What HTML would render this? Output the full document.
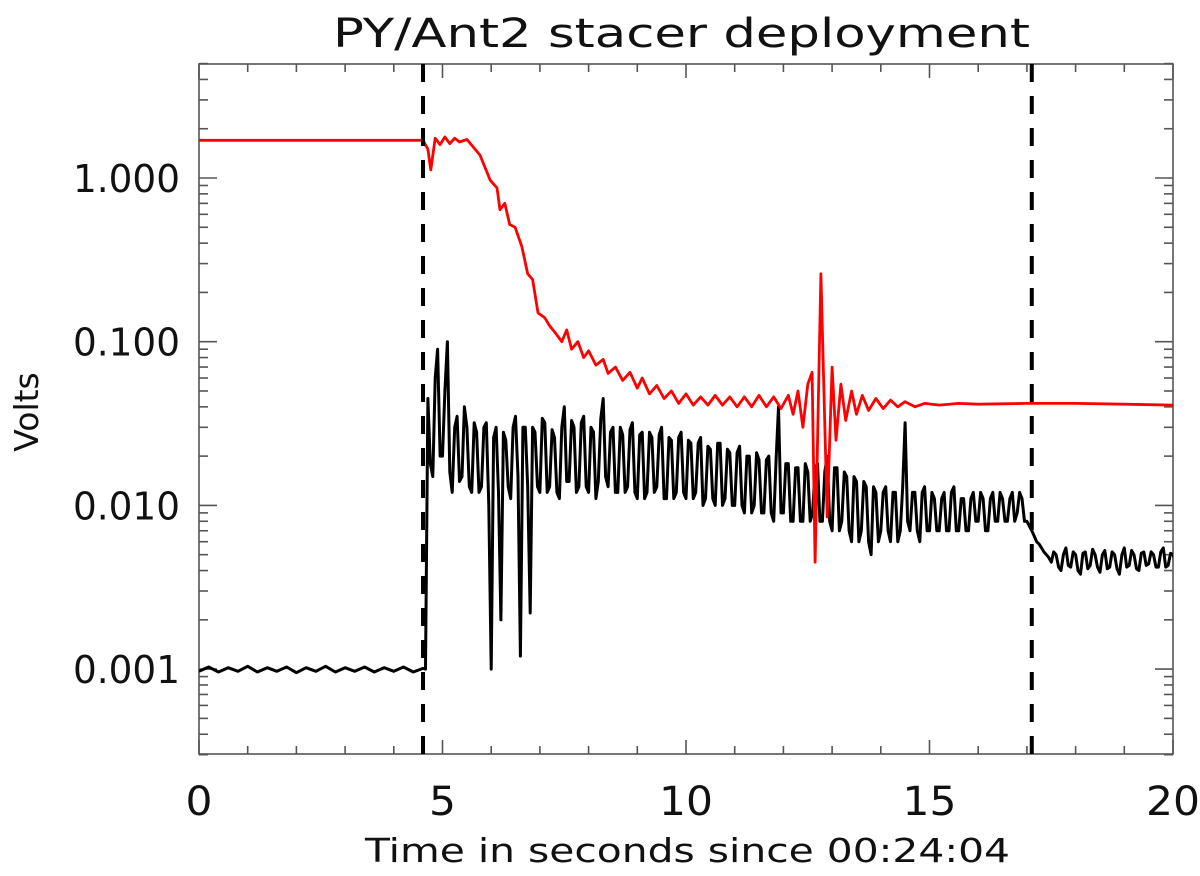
<!DOCTYPE html>
<html><head><meta charset="utf-8"><style>
html,body{margin:0;padding:0;background:#fff;}
svg{display:block;font-family:"DejaVu Sans","Liberation Sans",sans-serif;}
</style></head><body>
<svg id="chart" width="1200" height="876" viewBox="0 0 1200 876">
<defs><clipPath id="pc"><rect x="199" y="64" width="974" height="690"/></clipPath></defs>
<text x="333" y="47" font-size="40" textLength="697" lengthAdjust="spacingAndGlyphs" fill="#111">PY/Ant2 stacer deployment</text>
<text x="365" y="862" font-size="33" textLength="645" lengthAdjust="spacingAndGlyphs" fill="#111">Time in seconds since 00:24:04</text>
<text transform="translate(38,412) rotate(-90)" font-size="33" text-anchor="middle" fill="#111">Volts</text>
<g id="axes"></g>
<g id="plot" clip-path="url(#pc)"></g>
<g id="events"></g>
</svg>
<script>
const xTicks=[0,5,10,15,20];
const xTickLabels=["0","5","10","15","20"];
const yTicks=[0.001,0.01,0.1,1];
const yTickLabels=["0.001","0.010","0.100","1.000"];
const eventTimes=[4.6,17.1];
const redTimes=[0,4.6,4.7,4.76,4.85,4.95,5.05,5.15,5.25,5.35,5.5,5.77,5.98,6.12,6.18,6.28,6.38,6.49,6.63,6.75,6.85,6.96,7.1,7.2,7.35,7.45,7.55,7.65,7.78,7.9,8.0,8.15,8.3,8.4,8.55,8.7,8.85,9.0,9.1,9.25,9.4,9.55,9.7,9.85,10.0,10.15,10.3,10.45,10.6,10.75,10.9,11.05,11.2,11.35,11.5,11.65,11.8,11.95,12.1,12.2,12.3,12.4,12.5,12.59,12.65,12.77,12.9,13.0,13.08,13.18,13.28,13.4,13.5,13.62,13.75,13.9,14.05,14.2,14.35,14.5,14.7,14.9,15.2,15.6,16,17,18,19,20];
const redValues=[1.7,1.7,1.5,1.12,1.75,1.6,1.78,1.62,1.75,1.66,1.72,1.38,0.97,0.87,0.64,0.70,0.52,0.50,0.38,0.26,0.24,0.15,0.14,0.125,0.11,0.10,0.118,0.09,0.10,0.08,0.088,0.072,0.078,0.064,0.07,0.058,0.065,0.052,0.06,0.048,0.054,0.045,0.05,0.042,0.048,0.041,0.046,0.041,0.047,0.041,0.046,0.04,0.046,0.04,0.047,0.04,0.046,0.039,0.047,0.036,0.05,0.03,0.055,0.065,0.0045,0.26,0.0085,0.07,0.025,0.055,0.033,0.05,0.036,0.047,0.038,0.045,0.039,0.044,0.04,0.043,0.04,0.042,0.041,0.042,0.0415,0.042,0.042,0.0415,0.041];
const blackBaseTimes=[0,0.2,0.4,0.6,0.8,1.0,1.2,1.4,1.6,1.8,2.0,2.2,2.4,2.6,2.8,3.0,3.2,3.4,3.6,3.8,4.0,4.2,4.4,4.6,4.65];
const blackBaseValues=[0.00097,0.00103,0.00096,0.00102,0.00097,0.00104,0.00096,0.00102,0.00097,0.00103,0.00095,0.00102,0.00097,0.00104,0.00096,0.00102,0.00097,0.00103,0.00096,0.00102,0.00097,0.00103,0.00096,0.00101,0.001];
const blackStart=4.7;
const blackStep=0.1;
const blackValues=[0.045,0.015,0.09,0.02,0.1,0.012,0.035,0.015,0.03,0.012,
0.028,0.013,0.032,0.001,0.03,0.002,0.025,0.011,0.035,0.0012,
0.03,0.0022,0.028,0.012,0.032,0.013,0.026,0.011,0.04,0.014,
0.03,0.013,0.035,0.012,0.028,0.014,0.045,0.013,0.03,0.012,
0.027,0.013,0.032,0.011,0.028,0.012,0.026,0.013,0.03,0.011,
0.025,0.012,0.028,0.011,0.024,0.012,0.026,0.011,0.022,0.010,
0.024,0.011,0.021,0.010,0.023,0.009,0.02,0.010,0.019,0.009,
0.02,0.008,0.04,0.009,0.018,0.008,0.017,0.008,0.016,0.009,
0.018,0.008,0.02,0.007,0.017,0.008,0.015,0.006,0.014,0.007,
0.013,0.005,0.012,0.007,0.013,0.006,0.012,0.007,0.032,0.007,
0.012,0.006,0.013,0.007,0.011,0.007,0.012,0.007,0.013,0.007,
0.011,0.007,0.012,0.008,0.011,0.007,0.012,0.008,0.011,0.008,
0.012,0.009,0.011,0.008,0.007,0.006,0.0055,0.005,0.0045,0.005,
0.004,0.0055,0.0042,0.005,0.0038,0.0052,0.0043,0.005,0.0039,0.0053,
0.0042,0.005,0.0038,0.0055,0.0043,0.005,0.004,0.0052,0.0044,0.005,
0.0042,0.0055,0.0043,0.005];
const blackMidValues=[0.018,0.06,0.02,0.05,0.016,0.03,0.014,0.04,0.013,0.032,
0.012,0.03,0.01,0.026,0.012,0.028,0.013,0.03,0.015,0.03,
0.013,0.03,0.013,0.034,0.012,0.029,0.012,0.03,0.014,0.033,
0.012,0.032,0.013,0.03,0.011,0.034,0.015,0.028,0.012,0.03,
0.012,0.029,0.012,0.027,0.011,0.028,0.012,0.027,0.011,0.026,
0.011,0.026,0.012,0.025,0.011,0.024,0.01,0.023,0.011,0.024,
0.01,0.022,0.01,0.021,0.01,0.02,0.009,0.021,0.009,0.019,
0.009,0.019,0.009,0.018,0.008,0.017,0.008,0.018,0.008,0.017,
0.008,0.016,0.008,0.017,0.007,0.016,0.007,0.015,0.006,0.014,
0.006,0.013,0.006,0.012,0.007,0.012,0.006,0.013,0.008,0.012,
0.007,0.012,0.007,0.012,0.007,0.011,0.007,0.012,0.007,0.011,
0.007,0.011,0.008,0.012,0.007,0.011,0.008,0.012,0.008,0.011,
0.008,0.012,0.008,0.0075,0.0065,0.0058,0.0052,0.0048,0.0052,0.0042,
0.005,0.0043,0.0052,0.004,0.0051,0.0041,0.0054,0.0042,0.005,0.0041,
0.0052,0.0041,0.005,0.0042,0.0053,0.0041,0.0051,0.0043,0.0052,0.0042,
0.0052,0.0042,0.0051,0.0045];

const L=199,R=1173,T=64,B=754;
const xMin=0,xMax=20,yMin=0.0003,yMax=5;
const yRef=178, decade=163.7;
function xs(t){return L+(t-xMin)/(xMax-xMin)*(R-L);}
function ys(v){return yRef-Math.log10(v)*decade;}
const NS="http://www.w3.org/2000/svg";
const axes=document.getElementById('axes'), plot=document.getElementById('plot'), events=document.getElementById('events');
function mk(tag,attrs,parent){const e=document.createElementNS(NS,tag);for(const k in attrs)e.setAttribute(k,attrs[k]);parent.appendChild(e);return e;}
function line(x1,y1,x2,y2,parent,name){const e=mk('line',{x1:x1,y1:y1,x2:x2,y2:y2,stroke:'#555','stroke-width':1.6},parent);

return e;}

const fr=mk('rect',{x:L,y:T,width:R-L,height:B-T,fill:'none',stroke:'#555','stroke-width':1.6},axes);


for(let t=xMin;t<=xMax;t++){const major=t%5===0;const len=major?14:8;
 line(xs(t),B,xs(t),B-len,axes,'x-tick');line(xs(t),T,xs(t),T+len,axes,'x-tick-top');}
xTicks.forEach((t,i)=>{const w=xTickLabels[i].length*27;
 const tx=mk('text',{x:xs(t)-w/2,y:815,'font-size':40,textLength:w,lengthAdjust:'spacingAndGlyphs',fill:'#111'},axes);tx.textContent=xTickLabels[i];

});
for(let d=-4;d<=0;d++){for(let m=1;m<=9;m++){const v=m*Math.pow(10,d);if(v<yMin||v>yMax)continue;const len=m===1?18:9;const y=ys(v);
 line(L,y,L+len,y,axes,'y-tick');line(R,y,R-len,y,axes,'y-tick-right');}}
yTicks.forEach((v,i)=>{const tx=mk('text',{x:73,y:ys(v)+14,'font-size':38,textLength:107,lengthAdjust:'spacingAndGlyphs',fill:'#111'},axes);tx.textContent=yTickLabels[i];

});

let pts=[];
blackBaseTimes.forEach((t,i)=>pts.push(xs(t).toFixed(1)+','+ys(blackBaseValues[i]).toFixed(1)));
blackValues.forEach((v,i)=>{const t=blackStart+i*blackStep;
 pts.push(xs(t).toFixed(1)+','+ys(v).toFixed(1));
 if(i<blackMidValues.length)pts.push(xs(t+blackStep/2).toFixed(1)+','+ys(blackMidValues[i]).toFixed(1));});
const bl=mk('polyline',{points:pts.join(' '),fill:'none',stroke:'#000','stroke-width':3,'stroke-linejoin':'round'},plot);


const rp=redTimes.map((t,i)=>xs(t).toFixed(1)+','+ys(redValues[i]).toFixed(1)).join(' ');
const rl=mk('polyline',{points:rp,fill:'none',stroke:'#f00','stroke-width':2.8,'stroke-linejoin':'round'},plot);


eventTimes.forEach(t=>{const e=mk('line',{x1:xs(t),y1:T,x2:xs(t),y2:B,stroke:'#000','stroke-width':4,'stroke-dasharray':'18,14'},events);

});
</script>
</body></html>
